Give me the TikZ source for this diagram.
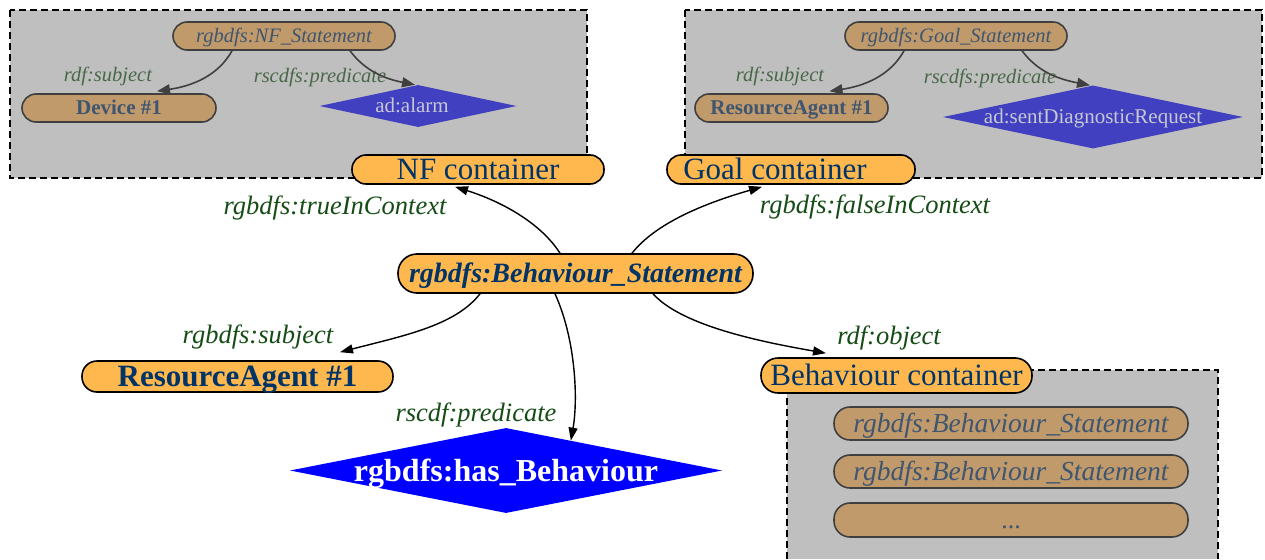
\documentclass[tikz,border=0pt]{standalone}
\usepackage{fontspec}
\setmainfont{Liberation Serif}
\usetikzlibrary{shapes.geometric,arrows.meta,calc}
\definecolor{boxgray}{RGB}{191,191,191}
\definecolor{tanfill}{RGB}{192,154,107}
\definecolor{tanborder}{RGB}{64,64,64}
\definecolor{slate}{RGB}{63,85,112}
\definecolor{fadegreen}{RGB}{72,104,72}
\definecolor{fadeblue}{RGB}{64,64,192}
\definecolor{fadetext}{RGB}{200,200,212}
\definecolor{orangefill}{RGB}{255,184,77}
\definecolor{navy}{RGB}{0,51,102}
\definecolor{lblgreen}{RGB}{22,76,22}
\newcommand\ctr[1]{\raisebox{-0.33em}[0pt][0pt]{\makebox[0pt][c]{#1}}}
\newcommand\fs[1]{\fontsize{#1pt}{#1pt}\selectfont}
\tikzset{
  cluster/.style={fill=boxgray, draw=black, line width=1.3pt, dash pattern=on 7pt off 4pt},
  contbox/.style={rectangle, draw=black, line width=1.6pt, fill=orangefill, text=navy,
    inner sep=0pt, rounded corners=14pt, minimum height=29pt, font=\fs{31}},
  innerbox/.style={rectangle, draw=tanborder, line width=1.6pt, fill=tanfill, text=slate,
    inner sep=0pt, rounded corners=14pt, minimum height=28pt},
  fadediam/.style={diamond, fill=fadeblue, text=fadetext, inner sep=0pt, font=\fs{21}},
  fadelbl/.style={text=fadegreen, inner sep=0pt, font=\fs{20.5}\itshape},
  mainlbl/.style={text=lblgreen, inner sep=0pt, font=\fs{26.5}\itshape},
  fadeedge/.style={draw=tanborder, line width=1.6pt, -{Triangle[length=13pt,width=10pt]}},
  mainedge/.style={draw=black, line width=1.4pt, -{Triangle[length=13pt,width=9pt]}}
}
\begin{document}
\begin{tikzpicture}[x=1pt,y=-1pt]
\useasboundingbox (0,0) rectangle (1265,559);
\fill[white] (0,0) rectangle (1265,559);

% clusters
\draw[cluster] (10,10) rectangle (587,178);
\draw[cluster] (685,10) rectangle (1262,178);
\fill[boxgray] (787,370) rectangle (1218,559);
\draw[cluster, fill=none] (787,559) -- (787,370) -- (1218,370) -- (1218,559);

% NF cluster content
\node[innerbox, minimum width=222pt, font=\fs{20.5}\itshape] (nfst) at (284,36) {\ctr{rgbdfs:NF\_Statement}};
\node[innerbox, minimum width=194pt, font=\fs{21}\bfseries] (dev) at (119,108) {\ctr{Device \#1}};
\node[fadediam, minimum width=197pt, minimum height=42pt] (alarm) at (418,106) {\ctr{\hspace*{-12pt}ad:alarm}};
\node[fadelbl] (l1) at (108,75) {\ctr{rdf:subject}};
\node[fadelbl] (l2) at (320,76) {\ctr{rscdfs:predicate}};
\draw[fadeedge] ([xshift=-52pt]nfst.south) .. controls (218,76) and (192,86) .. ([xshift=38pt,yshift=2pt]dev.north);
\draw[fadeedge] ([xshift=66pt]nfst.south) .. controls (366,72) and (386,79) .. ([xshift=-3pt]alarm.north);

% Goal cluster content
\node[innerbox, minimum width=222pt, font=\fs{20.5}\itshape] (goalst) at (956,36) {\ctr{rgbdfs:Goal\_Statement}};
\node[innerbox, minimum width=193pt, font=\fs{21}\bfseries] (ras) at (791.5,108) {\ctr{ResourceAgent \#1}};
\node[fadediam, minimum width=300pt, minimum height=63pt] (sdr) at (1093,117) {\ctr{ad:sentDiagnosticRequest}};
\node[fadelbl] (l3) at (780,75) {\ctr{rdf:subject}};
\node[fadelbl] (l4) at (990,77) {\ctr{rscdfs:predicate}};
\draw[fadeedge] ([xshift=-52pt]goalst.south) .. controls (890,76) and (864,86) .. ([xshift=38pt,yshift=2pt]ras.north);
\draw[fadeedge] ([xshift=66pt]goalst.south) .. controls (1038,72) and (1058,79) .. ([xshift=-3pt]sdr.north);

% Behaviour cluster content
\node[innerbox, minimum width=354pt, minimum height=33pt, rounded corners=16pt, font=\fs{27.5}\itshape] (b1) at (1011,423.5) {\ctr{rgbdfs:Behaviour\_Statement}};
\node[innerbox, minimum width=354pt, minimum height=33pt, rounded corners=16pt, font=\fs{27.5}\itshape] (b2) at (1011,471.5) {\ctr{rgbdfs:Behaviour\_Statement}};
\node[innerbox, minimum width=354pt, minimum height=34pt, rounded corners=16pt, font=\fs{26}] (b3) at (1011,520) {\ctr{...}};

% main nodes
\node[contbox, minimum width=252pt] (nfc) at (478,169.5) {\ctr{NF container}};
\node[contbox, minimum width=248pt] (goalc) at (791,169.5) {\ctr{\hspace*{-32pt}Goal container}};
\node[contbox, minimum width=271pt, minimum height=35pt, rounded corners=17pt] (bc) at (896.5,375.5) {\ctr{Behaviour container}};
\node[contbox, minimum width=355pt, minimum height=39pt, rounded corners=19pt, font=\fs{28}\bfseries\itshape] (bs) at (575.5,273.5) {\ctr{rgbdfs:Behaviour\_Statement}};
\node[contbox, minimum width=311pt, minimum height=31pt, rounded corners=15pt, font=\fs{31}\bfseries] (ra) at (237.5,376.5) {\ctr{ResourceAgent \#1}};
\node[diamond, fill=blue, text=white, inner sep=0pt, minimum width=432pt, minimum height=85pt, font=\fs{32}\bfseries] (hb) at (506,470.5) {\ctr{rgbdfs:has\_Behaviour}};

% main labels
\node[mainlbl] (t1) at (335,206) {\ctr{rgbdfs:trueInContext}};
\node[mainlbl] (t2) at (875,205) {\ctr{rgbdfs:falseInContext}};
\node[mainlbl] (t3) at (258,335) {\ctr{rgbdfs:subject}};
\node[mainlbl] (t4) at (889,336) {\ctr{rdf:object}};
\node[mainlbl] (t5) at (476,413) {\ctr{rscdf:predicate}};

% main edges
\draw[mainedge] ([xshift=-15.5pt]bs.north) .. controls (540,222) and (500,201) .. ([xshift=-23pt,yshift=-2pt]nfc.south);
\draw[mainedge] ([xshift=56.5pt]bs.north) .. controls (655,224) and (702,204) .. ([xshift=-29pt,yshift=-2pt]goalc.south);
\draw[mainedge] ([xshift=-95.5pt]bs.south) .. controls (455,326) and (402,336) .. ([xshift=102.5pt,yshift=8pt]ra.north);
\draw[mainedge] ([xshift=-20.5pt]bs.south) .. controls (576,340) and (578,400) .. ($(hb.north)!0.3!(hb.east)$);
\draw[mainedge] ([xshift=77.5pt]bs.south) .. controls (682,326) and (762,342) .. ([xshift=-70.5pt,yshift=4pt]bc.north);
\end{tikzpicture}
\end{document}
